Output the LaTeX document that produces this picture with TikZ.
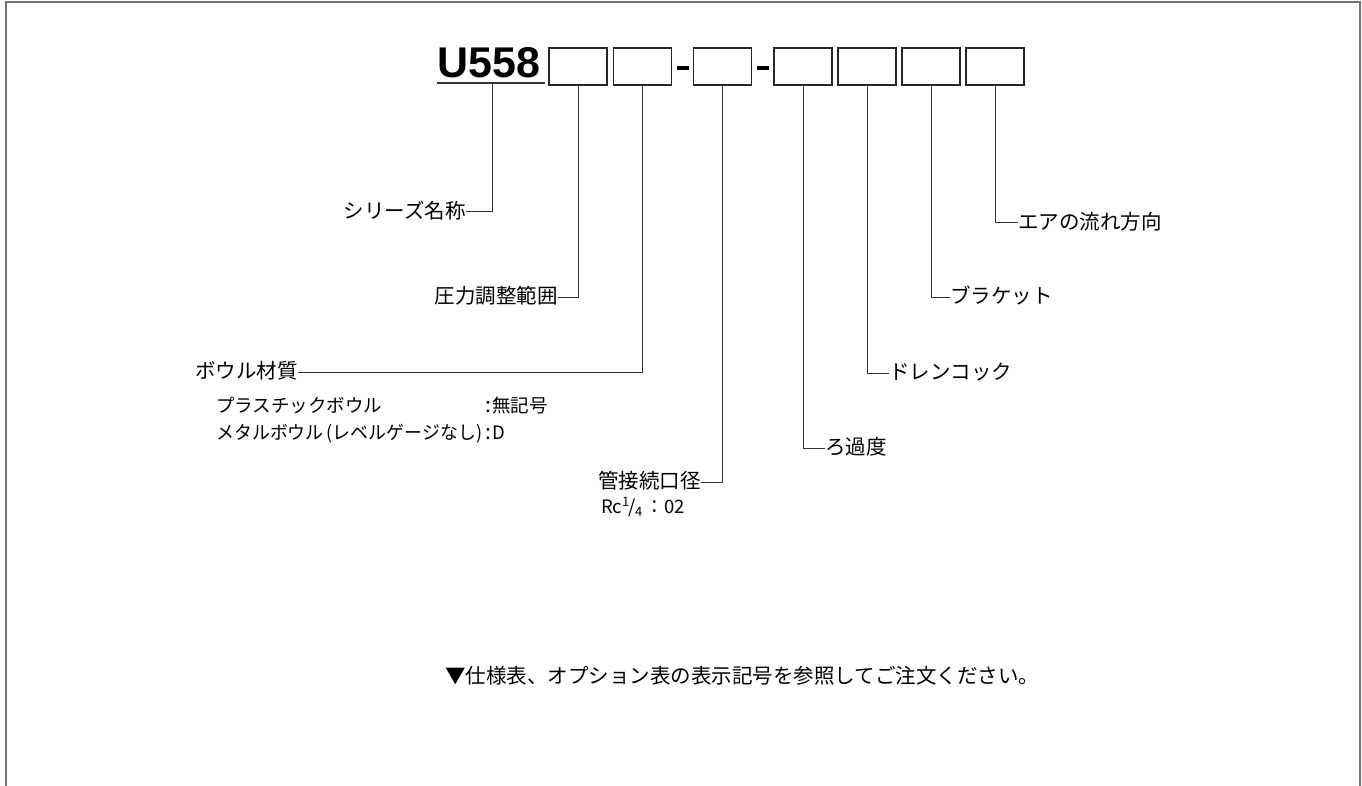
\documentclass[tikz,border=0pt]{standalone}
\usepackage{graphicx}
\usepackage{fontspec}
\setmainfont{Liberation Sans}
\newfontfamily\jp{Noto Sans CJK JP}
\begin{document}
\begin{tikzpicture}[x=1pt,y=-1pt,
  lbl/.style={font=\jp\fontsize{20.5}{24}\selectfont, inner sep=0pt, text height=17pt, text depth=3.5pt},
  sub/.style={font=\jp\fontsize{18.5}{22}\selectfont, inner sep=0pt},
  codebox/.style={draw=black!85, line width=1.4pt, minimum width=58pt, minimum height=37pt, inner sep=0pt},
  lead/.style={draw=black!80, line width=1pt},
  frame/.style={draw=black!55, line width=2pt}]
\useasboundingbox (0,0) rectangle (1362,786);
\draw[frame] (5.5,790) -- (5.5,2) -- (1359.5,2) -- (1359.5,790);

% series code
\node[anchor=base west, inner sep=0pt, font=\fontsize{43}{46}\selectfont\bfseries] (u) at (437,78) {U558};
\coordinate (ul) at (437,83);
\coordinate (ur) at (545,83);
\draw[lead, line width=1.2pt] (ul) -- (ur);
\coordinate (u0) at (492,83);

\node[codebox] (b1) at (578,66.5) {};
\node[codebox] (b2) at (642.5,66.5) {};
\node[codebox] (b3) at (722.5,66.5) {};
\node[codebox] (b4) at (803,66.5) {};
\node[codebox] (b5) at (867,66.5) {};
\node[codebox] (b6) at (931,66.5) {};
\node[codebox] (b7) at (995,66.5) {};
\fill (677,66) rectangle (689,70.5);
\fill (757,66) rectangle (769,70.5);

% left labels
\node[lbl, anchor=east] (n1) at (466,212) {シリーズ名称};
\draw[lead] (u0) |- (n1.east);
\node[lbl, anchor=east] (n2) at (558,297) {圧力調整範囲};
\draw[lead] (b1.south) |- (n2.east);
\node[lbl, anchor=east] (n3) at (298,372) {ボウル材質};
\draw[lead] (b2.south) |- (n3.east);
\node[sub, anchor=base west] (s1) at (216,412) {プラスチックボウル};
\node[sub, anchor=base west] (c1) at (485,412) {\fontsize{21}{22}\selectfont:\kern1pt\fontsize{18.5}{22}\selectfont 無記号};
\node[sub, anchor=base west] (s2) at (216,439) {\scalebox{0.97}[1]{メタルボウル\kern3pt(レベルゲージなし)}};
\node[sub, anchor=base west] (c2) at (485,439) {\fontsize{21}{22}\selectfont:\kern1pt\fontsize{18.5}{22}\selectfont D};
\node[lbl, anchor=east] (n4) at (701,482) {管接続口径};
\draw[lead] (b3.south) |- (n4.east);
\node[sub, anchor=base] (rc) at (643,513) {Rc\textsuperscript{1}\kern-1pt/\kern-1pt\textsubscript{4}\,：02};

% right labels
\node[lbl, anchor=west] (n5) at (825,448) {ろ過度};
\draw[lead] (b4.south) |- (n5.west);
\node[lbl, anchor=west] (n6) at (889,373) {ドレンコック};
\draw[lead] (b5.south) |- (n6.west);
\node[lbl, anchor=west] (n7) at (950,297) {ブラケット};
\draw[lead] (b6.south) |- (n7.west);
\node[lbl, anchor=west] (n8) at (1018,223) {エアの流れ方向};
\draw[lead] (b7.south) |- (n8.west);

% note
\node[lbl, anchor=west] (note) at (445,677) {▼仕様表、オプション表の表示記号を参照してご注文ください。};
\end{tikzpicture}
\end{document}
